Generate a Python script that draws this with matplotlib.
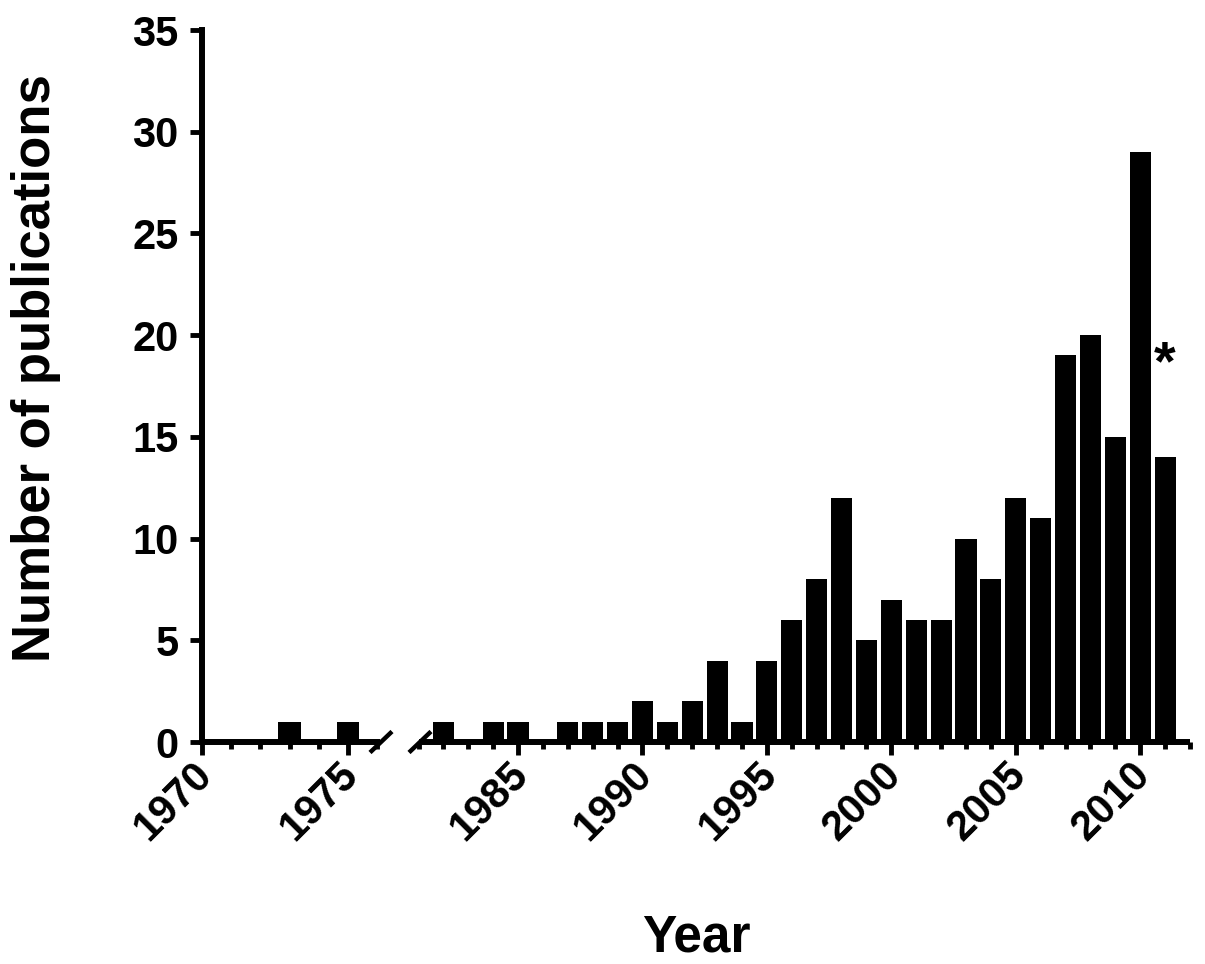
import matplotlib
matplotlib.use("Agg")
import matplotlib.pyplot as plt
from matplotlib.lines import Line2D
from matplotlib.ticker import MultipleLocator, FixedLocator
from matplotlib.transforms import ScaledTranslation

plt.rcParams['font.family'] = ['Liberation Sans', 'DejaVu Sans']
plt.rcParams['font.weight'] = 'bold'

# ---- data ----
years_early = [1970, 1971, 1972, 1973, 1974, 1975, 1976]
counts_early = [0, 0, 0, 1, 0, 1, 0]
years_late = list(range(1981, 2012))
counts_late = [0, 1, 0, 1, 1, 0, 1, 1, 1, 2,
               1, 2, 4, 1, 4, 6, 8, 12, 5, 7,
               6, 6, 10, 8, 12, 11, 19, 20, 15, 29,
               14]
star_year = 2011
star_value = 18.5
xlabel = "Year"
ylabel = "Number of publications"

W, H = 1205, 964
fig = plt.figure(figsize=(W / 100, H / 100), dpi=100)

y0_px, y35_px = 742, 30
bottom = (H - y0_px) / H
height = (y0_px - y35_px) / H

axL = fig.add_axes([202 / W, bottom, (380 - 202) / W, height])
axR = fig.add_axes([418.5 / W, bottom, (1190 - 418.5) / W, height])

spine_lw = 4.3
tick_w = 3.5
for ax in (axL, axR):
    ax.set_ylim(0, 35)
    ax.spines['top'].set_visible(False)
    ax.spines['right'].set_visible(False)
    ax.spines['bottom'].set_linewidth(spine_lw)
    ax.spines['left'].set_linewidth(spine_lw)
    ax.spines['bottom'].set_capstyle('butt')
    ax.set_facecolor('none')
    ax.tick_params(axis='both', which='major', direction='out', length=9,
                   width=tick_w, labelsize=30, pad=6, color='black')
    ax.tick_params(axis='x', which='minor', direction='out', length=5,
                   width=tick_w, color='black')

axL.bar(years_early, counts_early, width=0.78, color='black', edgecolor='none')
axR.bar(years_late, counts_late, width=0.85, color='black', edgecolor='none')

axL.set_xlim(1970, 1976.1)
axR.set_xlim(1981, 2012)

axL.xaxis.set_major_locator(FixedLocator([1970, 1975]))
axL.xaxis.set_minor_locator(FixedLocator([1971, 1972, 1973, 1974, 1976]))
axR.xaxis.set_major_locator(FixedLocator([1985, 1990, 1995, 2000, 2005, 2010]))
axR.xaxis.set_minor_locator(FixedLocator([y for y in range(1981, 2013) if y % 5 != 0]))

axL.yaxis.set_major_locator(MultipleLocator(5))
axL.tick_params(axis='y', pad=8)
axR.spines['left'].set_visible(False)
axR.tick_params(axis='y', left=False, labelleft=False)

shift = ScaledTranslation(4 / 100, 5 / 100, fig.dpi_scale_trans)
for ax in (axL, axR):
    ax.set_xticklabels([str(int(t)) for t in ax.get_xticks()],
                       rotation=45, ha='right', va='center',
                       rotation_mode='anchor', fontsize=30, fontweight='bold')
    ax.tick_params(axis='x', which='major', pad=14)
    for lab in ax.get_xticklabels():
        lab.set_transform(lab.get_transform() + shift)
    for lab in ax.get_yticklabels():
        lab.set_fontweight('bold')
        lab.set_fontsize(30)

axR.text(star_year, star_value, "*", ha='center', va='center',
         fontsize=40, fontweight='bold')

# axis break marks
def slash(cx, cy):
    xs = [(cx - 11) / W, (cx + 11) / W]
    ys = [(H - cy - 10.5) / H, (H - cy + 10.5) / H]
    fig.add_artist(Line2D(xs, ys, transform=fig.transFigure, color='black',
                          lw=3.2, solid_capstyle='butt'))

slash(381, 742)
slash(420, 742)

fig.text(36 / W, 1 - 368 / H, ylabel, rotation=90, ha='center', va='center',
         fontsize=38, fontweight='bold')
fig.text(696 / W, 1 - 952 / H, xlabel, ha='center', va='baseline',
         fontsize=37, fontweight='bold')

fig.savefig("out.png", dpi=100)
